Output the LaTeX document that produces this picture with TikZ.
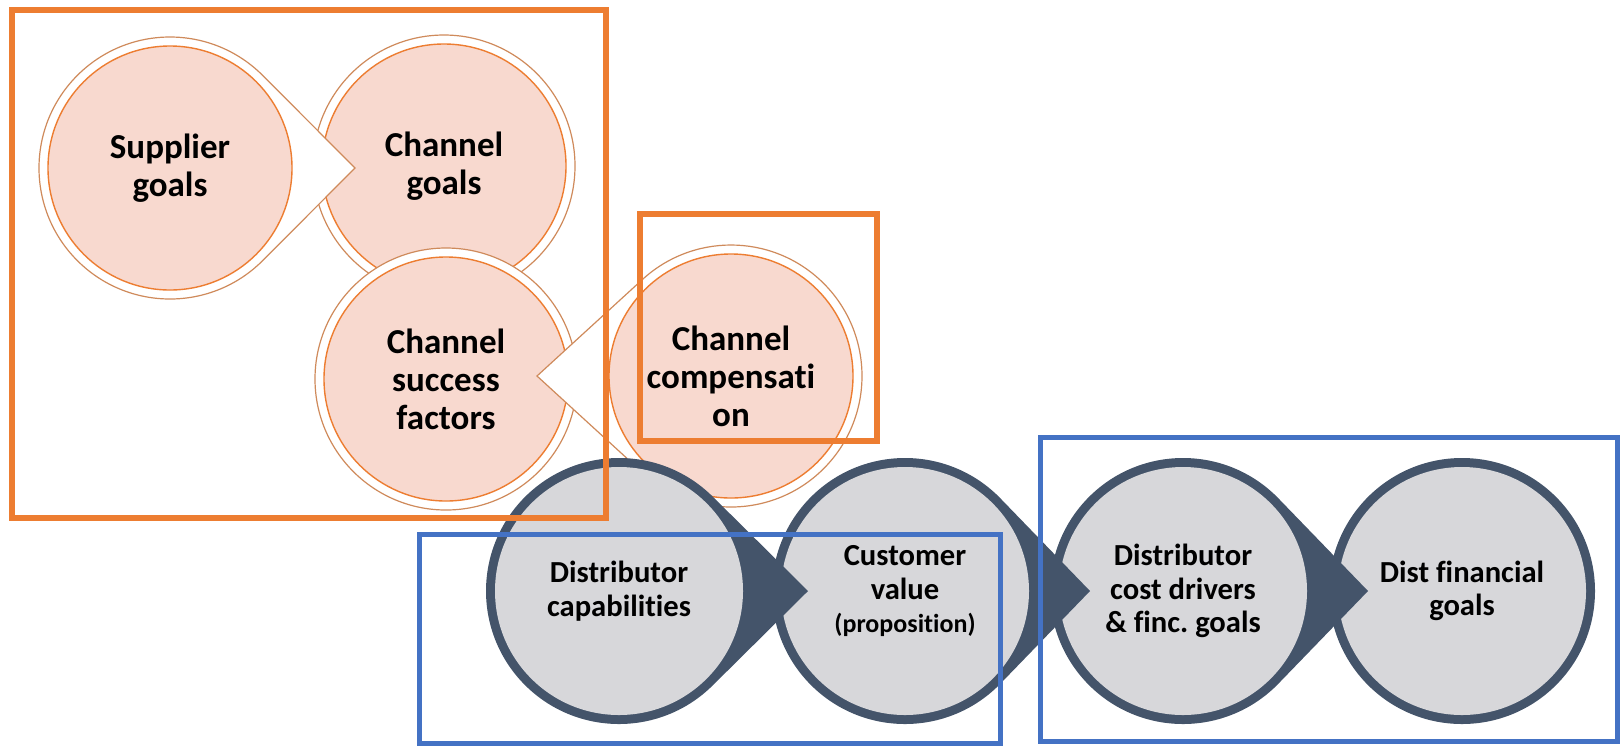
\documentclass[tikz,border=0pt]{standalone}
\usepackage{fontspec}
\setmainfont[Ligatures = NoCommon]{Carlito}
\usepackage{tikz}
\usetikzlibrary{calc}

\definecolor{ochre}{HTML}{ED7D31}
\definecolor{rimline}{HTML}{CF8A5B}
\definecolor{blush}{HTML}{F8D9CF}
\definecolor{slate}{HTML}{44546A}
\definecolor{mist}{HTML}{D7D7DA}
\definecolor{frameblue}{HTML}{4472C4}

\tikzset{
    pinkball/.style = {circle, draw = ochre, line width = 0.7pt, fill = blush,
        minimum size = 122pt, inner sep = 0pt, align = center,
        font = \fontsize{17.5}{19}\selectfont\bfseries},
    pinkrim/.style = {draw = rimline, line width = 0.6pt, fill = white},
    greyball/.style = {circle, fill = mist, minimum size = 124pt, inner sep = 0pt,
        align = center, font = \fontsize{15.3}{16.8}\selectfont\bfseries},
    greyrim/.style = {fill = slate},
    orangeframe/.style = {draw = ochre, line width = 3pt},
    blueframe/.style = {draw = frameblue, line width = 2.5pt},
}

\begin{document}
\begin{tikzpicture}[x = 0.5pt, y = -0.5pt]
        \useasboundingbox (0, 0) rectangle (1622, 746);

        \coordinate (c1) at (444, 166);
        \coordinate (c0) at (170, 168);
        \coordinate (t0) at (355, 168);
        \coordinate (c2) at (446, 379);
        \coordinate (c3) at (731, 376);
        \coordinate (t3) at (537, 376);

        \draw[pinkrim] (c1) circle [radius = 65.5pt];
        \node[pinkball] (p1) at (c1) {Channel\\goals};

        \draw[pinkrim] ($(c0) + (45:65.5pt)$) -- (t0) -- ($(c0) + (-45:65.5pt)$)
            arc [start angle = -45, end angle = -315, radius = 65.5pt] -- cycle;
        \node[pinkball] (p0) at (c0) {Supplier\\goals};

        \draw[pinkrim] (c2) circle [radius = 65.5pt];
        \node[pinkball] (p2) at (c2) {Channel\\success\\factors};

        \draw[pinkrim] ($(c3) + (132.5:65.5pt)$) -- (t3) -- ($(c3) + (227.5:65.5pt)$)
            arc [start angle = 227.5, end angle = 492.5, radius = 65.5pt] -- cycle;
        \node[pinkball] (p3) at (c3) {Channel\\compensati\\on};

        \coordinate (d3) at (1462, 591);
        \coordinate (d2) at (1183, 591);
        \coordinate (s2) at (1368, 591);
        \coordinate (d1) at (905, 591);
        \coordinate (s1) at (1090, 591);
        \coordinate (d0) at (619, 591);
        \coordinate (s0) at (808, 591);

        \fill[greyrim] (d3) circle [radius = 66.5pt];
        \node[greyball] (q3) at (d3) {Dist financial\\goals};

        \fill[greyrim] ($(d2) + (45:66.5pt)$) -- (s2) -- ($(d2) + (-45:66.5pt)$)
            arc [start angle = -45, end angle = -315, radius = 66.5pt] -- cycle;
        \node[greyball] (q2) at (d2) {Distributor\\cost drivers\\\& finc.\ goals};

        \fill[greyrim] ($(d1) + (45:66.5pt)$) -- (s1) -- ($(d1) + (-45:66.5pt)$)
            arc [start angle = -45, end angle = -315, radius = 66.5pt] -- cycle;
        \node[greyball] (q1) at (d1) {Customer\\value\\{\fontsize{13}{15}\selectfont(proposition)}};

        \fill[greyrim] ($(d0) + (45:66.5pt)$) -- (s0) -- ($(d0) + (-45:66.5pt)$)
            arc [start angle = -45, end angle = -315, radius = 66.5pt] -- cycle;
        \node[greyball] (q0) at (d0) {Distributor\\capabilities};

        \draw[orangeframe] (12, 10) rectangle (606, 518);
        \draw[orangeframe] (640, 214) rectangle (877, 441);
        \draw[blueframe] (419, 534) rectangle (1000, 743);
        \draw[blueframe] (1040, 437) rectangle (1617, 741);
    \end{tikzpicture}
\end{document}
